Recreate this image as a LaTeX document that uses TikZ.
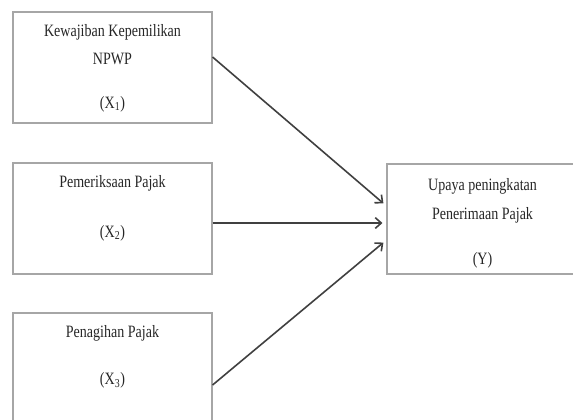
\documentclass[tikz,border=0pt]{standalone}
\usepackage{fontspec}
\setmainfont{Liberation Serif}[FakeStretch=0.81]
\usetikzlibrary{positioning,arrows.meta}

\tikzset{
  box/.style={draw=black!35, line width=0.8pt, minimum width=149.25pt, minimum height=83.25pt, inner sep=0pt},
  boxtext/.style={align=center, inner sep=0pt, text=black!85, font=\fontsize{13}{14.5}\selectfont},
  arr/.style={-{Straight Barb[length=4.5pt,width=8pt]}, draw=black!75, line width=1.2pt, shorten >=3pt}
}

\begin{document}
\begin{tikzpicture}[x=0.75pt,y=-0.75pt]
    \clip (0,0) rectangle (573,419);
    % variabel X
    \node [box] (npwp) at (112.5,67.5) {};
    \node [boxtext, below=9.3pt of npwp.north] (npwptext) {Kewajiban Kepemilikan\\[7pt]NPWP\\[18pt](X\textsubscript{1})};
    \node [box] (periksa) at (112.5,218.5) {};
    \node [boxtext, below=9.3pt of periksa.north] (periksatext) {Pemeriksaan Pajak\\[23pt](X\textsubscript{2})};
    \node [box] (tagih) at (112.5,368.5) {};
    \node [boxtext, below=9.3pt of tagih.north] (tagihtext) {Penagihan Pajak\\[21pt](X\textsubscript{3})};
    % variabel Y
    \node [box, minimum width=143.25pt, minimum height=82.5pt] (upaya) at (482.5,219) {};
    \node [boxtext, below=11.3pt of upaya.north] (upayatext) {Upaya peningkatan\\[7pt]Penerimaan Pajak\\[19.5pt](Y)};
    % panah
    \draw [arr] (npwp.east |- 0,57) -- (upaya.west |- 0,206);
    \draw [arr] (periksa.east |- 0,223) -- (upaya.west |- 0,223);
    \draw [arr] (tagih.east |- 0,385) -- (upaya.west |- 0,240);
\end{tikzpicture}
\end{document}
